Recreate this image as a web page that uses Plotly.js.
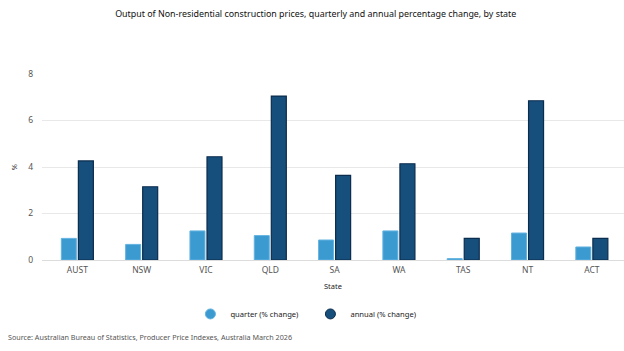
<!DOCTYPE html>
<html>
<head>
<meta charset="utf-8">
<script src="https://cdn.plot.ly/plotly-3.0.1.min.js"></script>
<style>html,body{margin:0;padding:0;background:#fff;}#chart{width:624px;height:351px;}</style>
</head>
<body>
<div id="chart"></div>
<script>
const states = ["AUST", "NSW", "VIC", "QLD", "SA", "WA", "TAS", "NT", "ACT"];
const quarterChange = [0.93, 0.67, 1.25, 1.05, 0.86, 1.25, 0.06, 1.16, 0.56];
const annualChange = [4.26, 3.15, 4.44, 7.05, 3.64, 4.14, 0.93, 6.85, 0.93];
const yTicks = [0, 2, 4, 6, 8];

const quarterColor = "#3b9ad0";
const annualColor = "#164f7c";
const FONT = "Noto Sans, Open Sans, sans-serif";

const data = [
  {type: "bar", x: states, y: quarterChange, name: "quarter (% change)", showlegend: false,
   marker: {color: quarterColor, line: {color: "#63b3e0", width: 1}}, hoverinfo: "x+y"},
  {type: "bar", x: states, y: annualChange, name: "annual (% change)", showlegend: false,
   marker: {color: annualColor, line: {color: "#0b2d4d", width: 1.2}}, hoverinfo: "x+y"},
  {type: "scatter", mode: "markers", x: [states[0]], y: [null], name: "quarter (% change)",
   marker: {symbol: "circle", size: 10, color: quarterColor, line: {color: "#63b3e0", width: 1}}, showlegend: true},
  {type: "scatter", mode: "markers", x: [states[0]], y: [null], name: "annual (% change)",
   marker: {symbol: "circle", size: 10, color: annualColor, line: {color: "#0b2d4d", width: 1}}, showlegend: true}
];

const layout = {
  width: 624, height: 351,
  margin: {l: 42, r: 0, t: 74, b: 91},
  paper_bgcolor: "#fff", plot_bgcolor: "#fff",
  font: {family: FONT, size: 9, color: "#555"},
  title: {text: "Output of Non-residential construction prices, quarterly and annual percentage change, by state",
          font: {family: FONT, size: 8.9, color: "#111"}, x: 0.506, xanchor: "center", y: 0.96, yanchor: "middle"},
  barmode: "group", bargap: 0.47, bargroupgap: 0.12,
  xaxis: {type: "category", showgrid: false, zeroline: false, showline: false, ticks: "",
          tickfont: {family: FONT, size: 8.5, color: "#555"}, ticklabelstandoff: 3,
          title: {text: "State", font: {family: FONT, size: 7.5, color: "#222"}, standoff: 10}},
  yaxis: {range: [0, 8], tickvals: yTicks, ticktext: yTicks.map(String), showgrid: true, gridcolor: "#e8e8e8", gridwidth: 1,
          zeroline: true, zerolinecolor: "#dcdcdc", zerolinewidth: 1, showline: false, ticks: "", ticklen: 0,
          tickfont: {family: FONT, size: 8.5, color: "#555"}, ticklabelstandoff: 8,
          title: {text: "%", font: {family: FONT, size: 7.5, color: "#333"}, standoff: 9}},
  legend: {orientation: "h", x: 0.255, xanchor: "left", y: -0.29, yanchor: "middle",
           font: {family: FONT, size: 7.6, color: "#222"}, entrywidth: 75, entrywidthmode: "pixels", itemwidth: 30},
  annotations: [
    {text: "Source: Australian Bureau of Statistics, Producer Price Indexes, Australia March 2026",
     xref: "paper", yref: "paper", x: -0.062, xanchor: "left", y: -0.415, yanchor: "middle", showarrow: false,
     font: {family: FONT, size: 7.2, color: "#555"}}
  ]
};

Plotly.newPlot("chart", data, layout, {displayModeBar: false, staticPlot: true});
</script>
</body>
</html>
